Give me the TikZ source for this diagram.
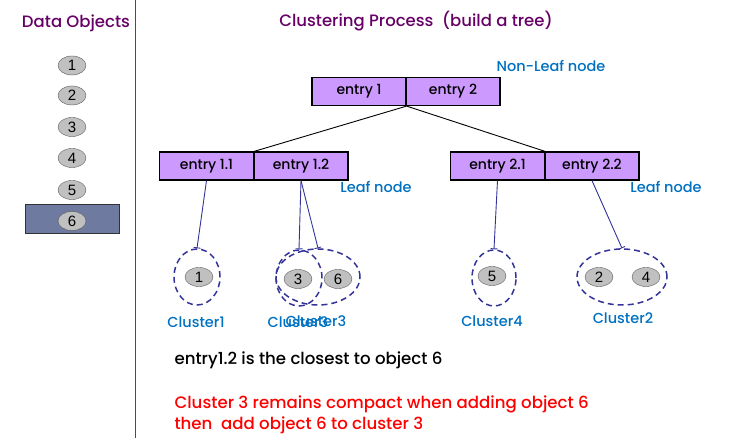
\documentclass[tikz,border=0pt]{standalone}
\usepackage{fontspec}
\setmainfont{Poppins}[UprightFont=*-Medium]
\newfontfamily\digitfont{Liberation Sans}
\usetikzlibrary{shapes.geometric,arrows.meta}
\definecolor{titlepurple}{RGB}{102,0,102}
\definecolor{labelblue}{RGB}{0,112,192}
\definecolor{entryfill}{RGB}{204,153,255}
\definecolor{objfill}{RGB}{192,192,192}
\definecolor{objline}{RGB}{90,90,90}
\definecolor{pickfill}{RGB}{110,122,160}
\definecolor{linknavy}{RGB}{51,51,153}
\begin{document}
\begin{tikzpicture}[x=1pt,y=-1pt,
  obj/.style={ellipse, draw=objline, fill=objfill, minimum width=28, minimum height=19, inner sep=0, font=\digitfont\fontsize{15}{15}\selectfont},
  entry/.style={rectangle, draw=black, line width=1.2pt, fill=entryfill, minimum width=94, minimum height=28, inner sep=0, font=\fontsize{14}{14}\selectfont},
  clust/.style={ellipse, draw=linknavy, dashed, dash pattern=on 6pt off 4pt, line width=1.5pt, minimum height=56, inner sep=0},
  link/.style={draw=linknavy, line width=0.9pt, -{Bar[width=7pt,line width=0.9pt]}},
  tag/.style={text=labelblue, font=\fontsize{14.5}{14.5}\selectfont},
  note/.style={anchor=west, font=\fontsize{16.6}{16.6}\selectfont}]
\useasboundingbox (0,0) rectangle (732,438);
\draw[line width=0.8pt, black!70] (135,0) -- (135,438);
\node[text=titlepurple, font=\fontsize{16.5}{16.5}\selectfont] (dtitle) at (76,23) {Data Objects};
\node[text=titlepurple, font=\fontsize{16.5}{16.5}\selectfont] (ptitle) at (416,21) {Clustering Process\ \ (build a tree)};
\node[rectangle, draw=black!80, fill=pickfill, minimum width=94, minimum height=29, inner sep=0] (pick) at (72,218.5){};
\node[obj] (o1) at (72,65.5){1};
\node[obj] (o2) at (72,95.5){2};
\node[obj] (o3) at (72,127){3};
\node[obj] (o4) at (72,158){4};
\node[obj] (o5) at (72,190){5};
\node[obj] (o6) at (72,221){6};
\node[entry] (e1) at (359,91.5){entry 1};
\node[entry] (e2) at (453,91.5){entry 2};
\node[tag] (nonleaf) at (551,66){Non-Leaf node};
\node[entry] (e11) at (206.5,166){entry 1.1};
\node[entry] (e12) at (301,166){entry 1.2};
\node[entry] (e21) at (497.5,166){entry 2.1};
\node[entry] (e22) at (592,166){entry 2.2};
\draw[line width=0.9pt](e1.south east) -- (e11.north east);
\draw[line width=0.9pt](e1.south east) -- (e21.north east);
\node[tag] (leafL) at (376,187){Leaf node};
\node[tag] (leafR) at (666,187){Leaf node};
\node[clust, minimum width=46] (c1) at (197,277){};
\node[clust, minimum width=46] (c3old) at (299,278){};
\node[clust, minimum width=84] (c3) at (318,277){};
\node[clust, minimum width=44] (c4) at (494,278){};
\node[clust, minimum width=90] (c2) at (622,277){};
\node[obj] (k1) at (199,277){1};
\node[obj] (k3) at (298,279){3};
\node[obj] (k6) at (338,279){6};
\node[obj] (k5) at (492,276){5};
\node[obj] (k2) at (599,277){2};
\node[obj] (k4) at (646,277){4};
\draw[link](e11.south) -- (c1.north);
\draw[link](e12.south) -- (c3old.north);
\draw[link](e12.south) -- (c3.north);
\draw[link](e21.south) -- (c4.north);
\draw[link](e22.south) -- (c2.north);
\node[tag] (t1) at (196,322){Cluster1};
\node[tag] (t3old) at (298,322){Cluster3};
\node[tag] (t3) at (316,321){Cluster3};
\node[tag] (t4) at (492,321){Cluster4};
\node[tag] (t2) at (623,318){Cluster2};
\node[note] (n1) at (171,360){entry1.2 is the closest to object 6};
\node[note, text=red] (n2) at (171,404){Cluster 3 remains compact when adding object 6};
\node[note, text=red] (n3) at (171,425){then\ \ add object 6 to cluster 3};
\end{tikzpicture}
\end{document}
